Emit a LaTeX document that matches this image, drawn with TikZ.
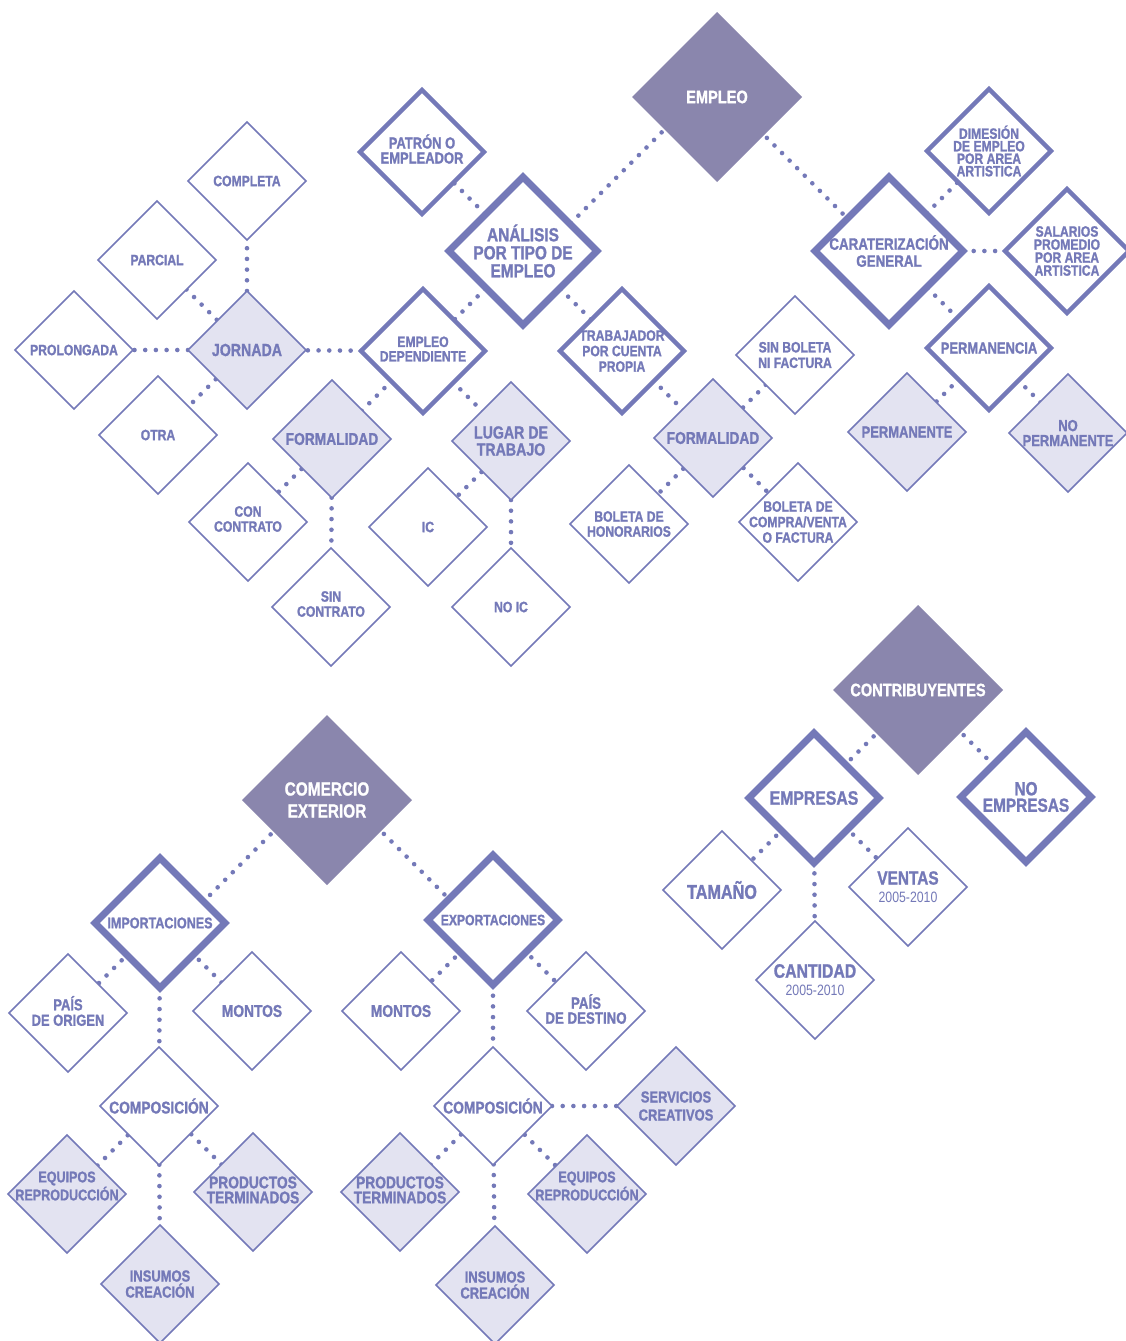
\documentclass[tikz,border=0pt]{standalone}
\usepackage{fontspec}
\newfontfamily\cf{Liberation Sans}[FakeStretch=0.81,FakeBold=1.2,UprightFont=* Bold]
\newfontfamily\cfr{Liberation Sans}[FakeStretch=0.82]
\usetikzlibrary{shapes.geometric,calc,backgrounds}
\definecolor{main}{HTML}{7479B8}
\definecolor{dark}{HTML}{8A86AD}
\definecolor{light}{HTML}{E3E3F1}
\tikzset{
  dia/.style={diamond, aspect=1, inner sep=0pt, outer sep=0pt, line join=miter},
  root/.style={dia, fill=dark, minimum size=170},
  thick/.style={dia, draw=main, line width=7, fill=white, minimum size=148},
  thicks/.style={dia, draw=main, line width=7, fill=white, minimum size=130},
  med/.style={dia, draw=main, line width=4.5, fill=white, minimum size=124},
  thin/.style={dia, draw=main, line width=1.6, fill=white, minimum size=118},
  lite/.style={thin, fill=light},
  lbl/.style={text=main, align=center, inner sep=0pt},
  wlbl/.style={lbl, text=white},
  dotline/.style={draw=main, line width=4.6, line cap=round, dash pattern=on 0pt off 10.7pt},
  fs/.style 2 args={font=\cf\fontsize{#1}{#2}\selectfont}
}
\newcommand\cst[2]{\draw[dotline] (#1) -- (#2);}
\newcommand\cdg[3]{%
  \coordinate (mm) at ($(#1)!0.5!(#2)$);
  \coordinate (nn) at ($(mm)+(#3)$);
  \draw[dotline] ($(mm)!(#1)!(nn)$) -- ($(mm)!(#2)!(nn)$);}
\newcommand\yrs{{\cfr\fontsize{15}{18}\selectfont 2005-2010}}
\begin{document}
\begin{tikzpicture}[x=1pt,y=-1pt]
\useasboundingbox (0,0) rectangle (1126,1341);
% ---------------- EMPLEO
\node[root,label={[wlbl,fs={18}{18}]center:EMPLEO}] (empleo) at (717,97) {};
\node[thick,label={[lbl,fs={19}{18}]center:{ANÁLISIS\\POR TIPO DE\\EMPLEO}}] (analisis) at (523,251) {};
\node[thick,label={[lbl,fs={16.5}{17}]center:{CARATERIZACIÓN\\GENERAL}}] (carat) at (889,251) {};
\node[med,label={[lbl,fs={16}{15},yshift=3pt]center:{PATRÓN O\\EMPLEADOR}}] (patron) at (422,152) {};
\node[med,label={[lbl,fs={15}{12.5}]center:{DIMESIÓN\\DE EMPLEO\\POR AREA\\ARTISTICA}}] (dimesion) at (989,151) {};
\node[med,label={[lbl,fs={15}{13}]center:{SALARIOS\\PROMEDIO\\POR AREA\\ARTISTICA}}] (salarios) at (1067,251) {};
\node[med,label={[lbl,fs={16}{16}]center:PERMANENCIA}] (permanencia) at (989,348) {};
\node[lite,label={[lbl,fs={16}{16}]center:PERMANENTE}] (permanente) at (907,432) {};
\node[lite,label={[lbl,fs={16}{15}]center:{NO\\PERMANENTE}}] (nopermanente) at (1068,433) {};
\node[med,label={[lbl,fs={15}{14.5},yshift=2pt]center:{EMPLEO\\DEPENDIENTE}}] (empdep) at (423,351) {};
\node[med,label={[lbl,fs={15}{15.5}]center:{TRABAJADOR\\POR CUENTA\\PROPIA}}] (trab) at (622,351) {};
\node[lite,label={[lbl,fs={17.5}{17}]center:JORNADA}] (jornada) at (247,350) {};
\node[thin,label={[lbl,fs={15}{15}]center:COMPLETA}] (completa) at (247,181) {};
\node[thin,label={[lbl,fs={15}{15}]center:PARCIAL}] (parcial) at (157,260) {};
\node[thin,label={[lbl,fs={15}{15}]center:PROLONGADA}] (prolongada) at (74,350) {};
\node[thin,label={[lbl,fs={15}{15}]center:OTRA}] (otra) at (158,435) {};
\node[lite,label={[lbl,fs={17}{17}]center:FORMALIDAD}] (formL) at (332,439) {};
\node[lite,label={[lbl,fs={17.5}{17}]center:{LUGAR DE\\TRABAJO}}] (lugar) at (511,441) {};
\node[thin,label={[lbl,fs={15}{15},yshift=3pt]center:{CON\\CONTRATO}}] (concon) at (248,522) {};
\node[thin,label={[lbl,fs={15}{15},yshift=3pt]center:{SIN\\CONTRATO}}] (sincon) at (331,607) {};
\node[thin,label={[lbl,fs={15}{15}]center:IC}] (ic) at (428,527) {};
\node[thin,label={[lbl,fs={15}{15}]center:NO IC}] (noic) at (511,607) {};
\node[lite,label={[lbl,fs={17}{17}]center:FORMALIDAD}] (formR) at (713,438) {};
\node[thin,label={[lbl,fs={15}{15.5}]center:{SIN BOLETA\\NI FACTURA}}] (sinbol) at (795,355) {};
\node[thin,label={[lbl,fs={15}{15}]center:{BOLETA DE\\HONORARIOS}}] (honor) at (629,524) {};
\node[thin,label={[lbl,fs={15}{15.5}]center:{BOLETA DE\\COMPRA/VENTA\\O FACTURA}}] (compra) at (798,522) {};
% ---------------- CONTRIBUYENTES
\node[root,label={[wlbl,fs={18}{18}]center:CONTRIBUYENTES}] (contrib) at (918,690) {};
\node[thicks,label={[lbl,fs={19.5}{19}]center:EMPRESAS}] (empresas) at (814,798) {};
\node[thicks,label={[lbl,fs={19}{16.5}]center:{NO\\EMPRESAS}}] (noemp) at (1026,797) {};
\node[thin,label={[lbl,fs={20}{20}]center:TAMAÑO}] (tamano) at (722,890) {};
\node[thin,label={[lbl,fs={19}{18}]center:{VENTAS\\\yrs}}] (ventas) at (908,887) {};
\node[thin,label={[lbl,fs={19.5}{18}]center:{CANTIDAD\\\yrs}}] (cantidad) at (815,980) {};
% ---------------- COMERCIO EXTERIOR
\node[root,label={[wlbl,fs={19}{22}]center:{COMERCIO\\EXTERIOR}}] (comercio) at (327,800) {};
\node[thicks,label={[lbl,fs={15.5}{15}]center:IMPORTACIONES}] (imp) at (160,923) {};
\node[thicks,label={[lbl,fs={15}{15}]center:EXPORTACIONES}] (exp) at (493,920) {};
\node[thin,label={[lbl,fs={16}{15.5},yshift=2pt]center:{PAÍS\\DE ORIGEN}}] (paisor) at (68,1013) {};
\node[thin,label={[lbl,fs={17}{17}]center:MONTOS}] (montosL) at (252,1011) {};
\node[thin,label={[lbl,fs={17}{17}]center:MONTOS}] (montosR) at (401,1011) {};
\node[thin,label={[lbl,fs={16.4}{15},yshift=2pt]center:{PAÍS\\DE DESTINO}}] (paisdest) at (586,1011) {};
\node[thin,label={[lbl,fs={17}{17}]center:COMPOSICIÓN}] (compL) at (159,1106) {};
\node[thin,label={[lbl,fs={17}{17}]center:COMPOSICIÓN}] (compR) at (493,1106) {};
\node[lite,label={[lbl,fs={16}{18}]center:{SERVICIOS\\CREATIVOS}}] (serv) at (676,1106) {};
\node[lite,label={[lbl,fs={15.5}{18},yshift=8pt]center:{EQUIPOS\\REPRODUCCIÓN}}] (equL) at (67,1194) {};
\node[lite,label={[lbl,fs={17}{15},yshift=2pt]center:{PRODUCTOS\\TERMINADOS}}] (prodL) at (253,1192) {};
\node[lite,label={[lbl,fs={16}{16}]center:{INSUMOS\\CREACIÓN}}] (insL) at (160,1284) {};
\node[lite,label={[lbl,fs={17}{15},yshift=2pt]center:{PRODUCTOS\\TERMINADOS}}] (prodR) at (400,1192) {};
\node[lite,label={[lbl,fs={15.5}{18},yshift=8pt]center:{EQUIPOS\\REPRODUCCIÓN}}] (equR) at (587,1194) {};
\node[lite,label={[lbl,fs={16}{16}]center:{INSUMOS\\CREACIÓN}}] (insR) at (495,1285) {};
% ---------------- connectors
\begin{scope}[on background layer]
\cdg{empleo}{analisis}{1,-1}
\cdg{empleo}{carat}{1,1}
\cdg{analisis}{patron}{1,1}
\cdg{analisis}{empdep}{1,-1}
\cdg{analisis}{trab}{1,1}
\cdg{carat}{dimesion}{1,-1}
\cst{carat}{salarios}
\cdg{carat}{permanencia}{1,1}
\cdg{permanencia}{permanente}{1,-1}
\cdg{permanencia}{nopermanente}{1,1}
\cst{empdep}{jornada}
\cdg{empdep}{formL}{1,-1}
\cdg{empdep}{lugar}{1,1}
\cst{jornada}{completa}
\cdg{jornada}{parcial}{1,1}
\cst{jornada}{prolongada}
\cdg{jornada}{otra}{1,-1}
\cdg{formL}{concon}{1,-1}
\cst{formL}{sincon}
\cdg{lugar}{ic}{1,-1}
\cst{lugar}{noic}
\cdg{trab}{formR}{1,1}
\cdg{formR}{sinbol}{1,-1}
\cdg{formR}{honor}{1,-1}
\cdg{formR}{compra}{1,1}
\cdg{contrib}{empresas}{1,-1}
\cdg{contrib}{noemp}{1,1}
\cdg{empresas}{tamano}{1,-1}
\cdg{empresas}{ventas}{1,1}
\cst{empresas}{cantidad}
\cdg{comercio}{imp}{1,-1}
\cdg{comercio}{exp}{1,1}
\cdg{imp}{paisor}{1,-1}
\cdg{imp}{montosL}{1,1}
\cst{imp}{compL}
\cdg{exp}{montosR}{1,-1}
\cdg{exp}{paisdest}{1,1}
\cst{exp}{compR}
\cdg{compL}{equL}{1,-1}
\cdg{compL}{prodL}{1,1}
\cst{compL}{insL}
\cdg{compR}{prodR}{1,-1}
\cdg{compR}{equR}{1,1}
\cst{compR}{insR}
\cst{compR}{serv}
\end{scope}
\end{tikzpicture}
\end{document}
